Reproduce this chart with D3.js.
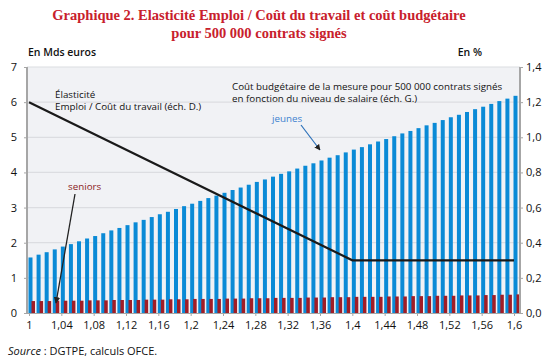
<!DOCTYPE html>
<html>
<head>
<meta charset="utf-8">
<script src="https://cdn.jsdelivr.net/npm/d3@7"></script>
<style>
  body { margin: 0; background: #fff; }
  svg text { font-family: "Open Sans", "Noto Sans", sans-serif; }
</style>
</head>
<body>
<svg id="chart"></svg>
<script>
// salary level (multiple of SMIC), one bar pair per step of 0.01
const salaire = d3.range(61).map(i => +(1 + i / 100).toFixed(2));

// Coût budgétaire, jeunes (Mds euros, left axis)
const jeunes = [
  1.58, 1.66, 1.73, 1.81, 1.89, 1.96, 2.04, 2.12, 2.19, 2.27,
  2.35, 2.42, 2.50, 2.58, 2.65, 2.73, 2.81, 2.88, 2.96, 3.04,
  3.11, 3.19, 3.27, 3.34, 3.42, 3.50, 3.57, 3.65, 3.73, 3.80,
  3.88, 3.96, 4.03, 4.11, 4.19, 4.26, 4.34, 4.42, 4.49, 4.57,
  4.65, 4.72, 4.80, 4.88, 4.95, 5.03, 5.11, 5.18, 5.26, 5.34,
  5.41, 5.49, 5.57, 5.64, 5.72, 5.80, 5.87, 5.95, 6.03, 6.10,
  6.18
];

// Coût budgétaire, seniors (Mds euros, left axis)
const seniors = [
  0.34, 0.34, 0.34, 0.35, 0.35, 0.35, 0.35, 0.36, 0.36, 0.36,
  0.37, 0.37, 0.37, 0.37, 0.38, 0.38, 0.38, 0.39, 0.39, 0.39,
  0.40, 0.40, 0.40, 0.40, 0.41, 0.41, 0.41, 0.42, 0.42, 0.42,
  0.43, 0.43, 0.43, 0.43, 0.44, 0.44, 0.44, 0.45, 0.45, 0.45,
  0.46, 0.46, 0.46, 0.46, 0.47, 0.47, 0.47, 0.48, 0.48, 0.48,
  0.49, 0.49, 0.49, 0.50, 0.50, 0.50, 0.51, 0.51, 0.52, 0.52,
  0.53
];

// Elasticité emploi / coût du travail (%, right axis)
const elastX = [1, 1.4, 1.6];
const elastY = [1.2, 0.3, 0.3];

const xTicks = [1, 1.04, 1.08, 1.12, 1.16, 1.2, 1.24, 1.28, 1.32, 1.36, 1.4, 1.44, 1.48, 1.52, 1.56, 1.6];
const leftTicks = [0, 1, 2, 3, 4, 5, 6, 7];
const rightTicks = [0, 0.2, 0.4, 0.6, 0.8, 1.0, 1.2, 1.4];

const W = 556, H = 362;
const svg = d3.select("#chart").attr("width", W).attr("height", H);

const plot = { left: 27, right: 520, top: 67, bottom: 313 };
const x = d3.scaleLinear().domain([1, 1.6]).range([29, 514]);
const yL = d3.scaleLinear().domain([0, 7]).range([plot.bottom, plot.top]);
const yR = d3.scaleLinear().domain([0, 1.4]).range([plot.bottom, plot.top]);
const comma = v => String(+v.toFixed(2)).replace(".", ",");

// title
const title = svg.append("text")
  .attr("x", 259).attr("text-anchor", "middle")
  .style("font-family", "'Liberation Serif', 'DejaVu Serif', serif")
  .attr("font-weight", "bold").attr("font-size", "14.5px").attr("fill", "#c8202c");
title.append("tspan").attr("x", 259).attr("y", 20)
  .text("Graphique 2. Elasticité Emploi / Coût du travail et coût budgétaire");
title.append("tspan").attr("x", 259).attr("y", 38)
  .text("pour 500 000 contrats signés");

svg.append("text").attr("x", 28).attr("y", 56).attr("font-size", "10.5px")
  .attr("font-weight", 600).attr("fill", "#111").text("En Mds euros");
svg.append("text").attr("x", 482).attr("y", 56).attr("text-anchor", "end")
  .attr("font-size", "10.5px").attr("font-weight", 600).attr("fill", "#111").text("En %");

// background + grid
svg.append("rect")
  .attr("x", plot.left).attr("y", plot.top)
  .attr("width", plot.right - plot.left).attr("height", plot.bottom - plot.top)
  .attr("fill", "#f1f2f5");

svg.append("g").selectAll("line").data(leftTicks.slice(1)).join("line")
  .attr("x1", plot.left).attr("x2", plot.right)
  .attr("y1", d => yL(d)).attr("y2", d => yL(d))
  .attr("stroke", "#dcdde1").attr("stroke-width", 1.2);

// bars
svg.append("g").selectAll("rect").data(salaire).join("rect")
  .attr("x", d => x(d) - 0.5).attr("width", 4)
  .attr("y", (d, i) => yL(jeunes[i]))
  .attr("height", (d, i) => yL(0) - yL(jeunes[i]))
  .attr("fill", "#0a8ad6");

svg.append("g").selectAll("rect").data(salaire).join("rect")
  .attr("x", d => x(d) + 2.5).attr("width", 3.5)
  .attr("y", (d, i) => yL(seniors[i]))
  .attr("height", (d, i) => yL(0) - yL(seniors[i]))
  .attr("fill", "#a11d26");

// elasticity line
const line = d3.line().x(d => x(d[0])).y(d => yR(d[1]));
svg.append("path")
  .datum(elastX.map((v, i) => [v, elastY[i]]))
  .attr("d", line)
  .attr("fill", "none").attr("stroke", "#1a1a1a").attr("stroke-width", 2.2);

// axes
const axisColor = "#a6a6a6";
const gL = svg.append("g").attr("transform", `translate(${plot.left},0)`)
  .call(d3.axisLeft(yL).tickValues(leftTicks).tickSize(3).tickPadding(7).tickFormat(d3.format("d")));
const gR = svg.append("g").attr("transform", `translate(${plot.right},0)`)
  .call(d3.axisRight(yR).tickValues(rightTicks).tickSize(3).tickPadding(3).tickFormat(d => d.toFixed(1).replace(".", ",")));
const gB = svg.append("g").attr("transform", `translate(0,${plot.bottom})`)
  .call(d3.axisBottom(x).tickValues(xTicks).tickSize(3).tickPadding(5).tickFormat(comma));

[gL, gR, gB].forEach(g => {
  g.select(".domain").remove();
  g.selectAll(".tick line").attr("stroke", axisColor);
  g.selectAll(".tick text").attr("font-size", "11px").attr("fill", "#111")
    .style("font-family", "'Open Sans', 'Noto Sans', sans-serif");
});
svg.append("line").attr("x1", plot.left).attr("x2", plot.left)
  .attr("y1", plot.top).attr("y2", plot.bottom + 1)
  .attr("stroke", axisColor).attr("stroke-width", 2);
svg.append("line").attr("x1", plot.right).attr("x2", plot.right)
  .attr("y1", plot.top).attr("y2", plot.bottom + 1)
  .attr("stroke", axisColor).attr("stroke-width", 2);
svg.append("line").attr("x1", plot.left).attr("x2", plot.right)
  .attr("y1", plot.bottom + 0.5).attr("y2", plot.bottom + 0.5)
  .attr("stroke", axisColor).attr("stroke-width", 1);

// annotations
const defs = svg.append("defs");
defs.append("marker").attr("id", "arrBlack")
  .attr("viewBox", "0 0 10 10").attr("refX", 9).attr("refY", 5)
  .attr("markerWidth", 5).attr("markerHeight", 5).attr("orient", "auto")
  .append("path").attr("d", "M0,0 L10,5 L0,10 z").attr("fill", "#222");

const note = (tx, ty, lines, color) => {
  const t = svg.append("text").attr("font-size", "9.8px").attr("fill", color || "#111");
  lines.forEach((s, i) => t.append("tspan").attr("x", tx).attr("y", ty + i * 12).text(s));
};
note(55, 98, ["Élasticité", "Emploi / Coût du travail (éch. D.)"]);
note(232, 90, ["Coût budgétaire de la mesure pour 500 000 contrats signés", "en fonction du niveau de salaire (éch. G.)"]);
note(272, 122, ["jeunes"], "#3b7fcf");
note(68, 190, ["seniors"], "#8b1a24");

svg.append("line").attr("x1", 301).attr("y1", 125).attr("x2", 320).attr("y2", 150)
  .attr("stroke", "#2a6fb8").attr("stroke-width", 1.2).attr("marker-end", "url(#arrBlack)");
svg.append("line").attr("x1", 75).attr("y1", 194).attr("x2", 56).attr("y2", 303)
  .attr("stroke", "#222").attr("stroke-width", 1.3).attr("marker-end", "url(#arrBlack)");

// source
const src = svg.append("text").attr("x", 8).attr("y", 355).attr("font-size", "11px").attr("fill", "#111");
src.append("tspan").attr("font-style", "italic").text("Source");
src.append("tspan").text(" : DGTPE, calculs OFCE.");
</script>
</body>
</html>
